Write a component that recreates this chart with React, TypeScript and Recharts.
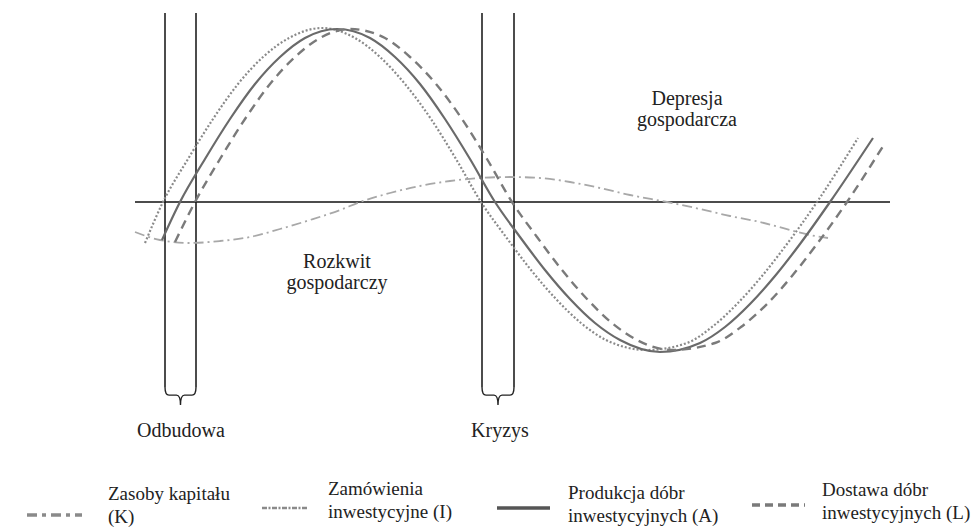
import { LineChart, Line, XAxis, YAxis, ReferenceLine, ReferenceArea, ReferenceDot, Legend } from "recharts";

const FONT = "Liberation Serif, DejaVu Serif, serif";

// Zasoby kapitału (K) - kropkowana
const kX = [145, 163, 188, 213, 238, 263, 289, 322, 355, 380, 405, 431, 456, 481, 506, 531, 556, 581, 606, 647, 687, 712, 737, 762, 787, 817, 858];
const kY = [-41, 0, 43, 83, 118, 145, 164, 174, 164, 145, 118, 83, 43, 0, -35, -68, -97, -121, -138, -148, -141, -125, -102, -74, -42, 0, 64];

// Zamówienia inwestycyjne (I) - kreska-kropka
const iX = [135, 160, 190, 220, 250, 280, 310, 340, 360, 390, 420, 450, 480, 510, 540, 570, 600, 630, 667, 700, 730, 760, 790, 810, 828];
const iY = [-30, -38, -41, -39, -35, -27, -18, -8, 0, 9, 16, 21, 24, 25, 24, 20, 14, 7, 0, -7, -14, -20, -28, -33, -36];

// Produkcja dóbr inwestycyjnych (A) - ciągła
const aX = [162, 180, 205, 230, 255, 280, 305, 337, 370, 395, 420, 445, 470, 495, 520, 545, 570, 595, 620, 660, 700, 725, 750, 775, 800, 830, 873];
const aY = [-38, 0, 43, 83, 118, 145, 164, 173, 164, 145, 118, 83, 43, 0, -35, -68, -97, -121, -138, -150, -141, -125, -102, -74, -42, 0, 64];

// Dostawa dóbr inwestycyjnych (L) - przerywana
const lX = [175, 195, 220, 245, 270, 295, 320, 350, 385, 410, 436, 462, 487, 512, 537, 562, 587, 612, 637, 672, 715, 741, 767, 792, 817, 847, 885];
const lY = [-40, 0, 43, 83, 118, 145, 164, 173, 164, 145, 118, 83, 43, 0, -35, -68, -97, -121, -138, -148, -141, -125, -102, -74, -42, 0, 59];

// fazy cyklu (granice pionowych linii)
const odbudowa = [165, 196];
const kryzys = [482, 514];
const phaseTop = 189;
const phaseBottom = -185;
const braceTip = -203;
const axisRange = [135, 890];

const legendNames = [
  ["Zasoby kapitału", "(K)"],
  ["Zamówienia", "inwestycyjne (I)"],
  ["Produkcja dóbr", "inwestycyjnych (A)"],
  ["Dostawa dóbr", "inwestycyjnych (L)"],
];

const toPoints = (xs: number[], ys: number[]) => xs.map((x, i) => ({ x, v: ys[i] }));

const series = [
  { key: "K", data: toPoints(kX, kY), stroke: "#8a8a8a", dash: "2 2", width: 2.2 },
  { key: "I", data: toPoints(iX, iY), stroke: "#a8a8a8", dash: "10 4 2 4", width: 1.8 },
  { key: "A", data: toPoints(aX, aY), stroke: "#6a6a6a", dash: undefined, width: 2.2 },
  { key: "L", data: toPoints(lX, lY), stroke: "#7a7a7a", dash: "9 6", width: 2.4 },
];

const annotations = [
  { lines: ["Rozkwit", "gospodarczy"], x: 337, y: -66 },
  { lines: ["Depresja", "gospodarcza"], x: 687, y: 97 },
  { lines: ["Odbudowa"], x: 181, y: -235 },
  { lines: ["Kryzys"], x: 500, y: -235 },
];

const textShape = (lines: string[]) => (p: any) => (
  <text x={p.cx} y={p.cy} textAnchor="middle" style={{ fontFamily: FONT, fontSize: 20 }} fill="#222">
    {lines.map((l, i) => (
      <tspan key={i} x={p.cx} dy={i === 0 ? 0 : 21}>
        {l}
      </tspan>
    ))}
  </text>
);

const braceShape = (p: any) => {
  const { x, y, width, height } = p;
  const m = y + height * 0.45;
  const cx = x + width / 2;
  const r = 4;
  const d = `M${x},${y} Q${x},${m} ${x + r},${m} L${cx - r},${m} Q${cx},${m} ${cx},${y + height} Q${cx},${m} ${cx + r},${m} L${x + width - r},${m} Q${x + width},${m} ${x + width},${y}`;
  return <path d={d} fill="none" stroke="#222" strokeWidth={1.4} />;
};

// legenda: pozycje symboli i tekstu (względem górnej krawędzi legendy, y=470)
const legendLayout = [
  { sx: 27, ex: 82, sy: 45, tx: 108, ty: 30, dash: "10 5 4 5", stroke: "#8a8a8a", w: 3.5 },
  { sx: 262, ex: 307, sy: 38, tx: 328, ty: 25, dash: "5 1.5 2 1.5", stroke: "#8a8a8a", w: 2.5 },
  { sx: 497, ex: 550, sy: 38, tx: 568, ty: 29, dash: undefined, stroke: "#555", w: 3.5 },
  { sx: 752, ex: 805, sy: 35, tx: 822, ty: 26, dash: "8 5", stroke: "#7a7a7a", w: 3.5 },
];

const renderLegend = () => (
  <svg width={976} height={60} style={{ display: "block" }}>
    {legendLayout.map((it, i) => (
      <g key={i}>
        <line x1={it.sx} x2={it.ex} y1={it.sy} y2={it.sy} stroke={it.stroke} strokeWidth={it.w} strokeDasharray={it.dash} />
        <text x={it.tx} y={it.ty} style={{ fontFamily: FONT, fontSize: 19 }} fill="#222">
          <tspan x={it.tx}>{legendNames[i][0]}</tspan>
          <tspan x={it.tx} dy={23}>{legendNames[i][1]}</tspan>
        </text>
      </g>
    ))}
  </svg>
);

export default function App() {
  return (
    <div style={{ position: "absolute", left: 0, top: 0, width: 976, height: 530, background: "#fff" }}>
      <LineChart width={976} height={530} margin={{ top: 0, right: 0, bottom: 0, left: 0 }}>
        <XAxis dataKey="x" type="number" domain={[0, 976]} hide allowDataOverflow />
        <YAxis type="number" domain={[-328, 202]} hide allowDataOverflow />
        <ReferenceLine
          segment={[{ x: axisRange[0], y: 0 }, { x: axisRange[1], y: 0 }]}
          stroke="#111"
          strokeWidth={1.5}
        />
        {[...odbudowa, ...kryzys].map((x) => (
          <ReferenceLine
            key={x}
            segment={[{ x, y: phaseTop }, { x, y: phaseBottom }]}
            stroke="#111"
            strokeWidth={1.5}
          />
        ))}
        {[odbudowa, kryzys].map((p, i) => (
          <ReferenceArea key={i} x1={p[0]} x2={p[1]} y1={phaseBottom} y2={braceTip} shape={braceShape} />
        ))}
        {series.map((s) => (
          <Line
            key={s.key}
            data={s.data}
            dataKey="v"
            type="monotone"
            stroke={s.stroke}
            strokeWidth={s.width}
            strokeDasharray={s.dash}
            dot={false}
            activeDot={false}
            isAnimationActive={false}
          />
        ))}
        {annotations.map((a, i) => (
          <ReferenceDot key={i} x={a.x} y={a.y} r={0} shape={textShape(a.lines)} />
        ))}
        <Legend
          verticalAlign="middle"
          align="center"
          content={renderLegend}
          wrapperStyle={{ left: 0, top: 470, width: 976, height: 60 }}
        />
      </LineChart>
    </div>
  );
}
